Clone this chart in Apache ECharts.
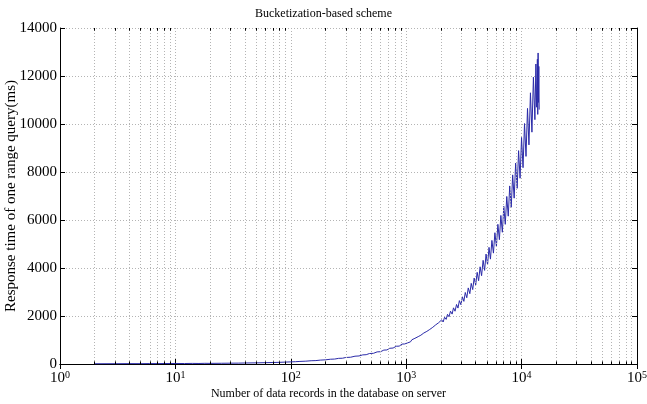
<!DOCTYPE html>
<html>
<head>
<meta charset="utf-8">
<script src="https://cdn.jsdelivr.net/npm/echarts@6/dist/echarts.min.js"></script>
<style>
  html, body { margin: 0; padding: 0; background: #fff; }
  #chartMain { width: 647px; height: 404px; }
</style>
</head>
<body>
<div id="chartMain"></div>
<script>
// number of records (x) and response time in ms (y)
var records = [2, 3, 4, 5, 6, 7, 8, 9, 10, 12, 14, 16, 18, 20, 25, 30, 35, 40, 50, 60, 70, 80, 90, 100,
    110, 120, 135, 150, 165, 180, 200, 220, 240, 260, 280, 300, 330, 360, 390, 420, 450, 480, 520, 560,
    600, 640, 680, 720, 770, 820, 870, 920, 970, 1000,
    1030, 1060, 1090, 1120, 1160, 1190, 1230, 1270, 1300, 1340, 1380, 1420, 1470, 1510, 1560, 1600,
    1650, 1700, 1750, 1800, 1860, 1910, 1970, 2030, 2090, 2150, 2220, 2280, 2350, 2420, 2500, 2570,
    2650, 2730, 2810, 2890, 2980, 3070, 3160, 3250, 3350, 3450, 3560, 3660, 3770, 3880, 4000, 4120,
    4240, 4370, 4500, 4640, 4780, 4920, 5070, 5220, 5370, 5530, 5700, 5870, 6050, 6230, 6420, 6610,
    6810, 7010, 7220, 7440, 7660, 7890, 8130, 8370, 8620, 8880, 9150, 9420, 9700, 9990, 10290, 10600,
    10920, 11250, 11580, 11930, 12290, 12660, 13040, 13300, 13500, 13700, 13800, 13900, 14000, 14100, 14200];

var responseMs = [10, 12, 15, 14, 18, 17, 20, 19, 22, 20, 25, 22, 28, 26, 30, 34, 36, 42, 48, 55, 62, 70, 80, 88,
    96, 108, 118, 136, 142, 162, 174, 198, 206, 236, 240, 272, 282, 325, 335, 380, 388, 436, 445, 505,
    512, 580, 585, 655, 665, 740, 745, 830, 835, 905,
    880, 950, 925, 1010, 985, 1070, 1045, 1140, 1100, 1200, 1170, 1290, 1240, 1360, 1320, 1440,
    1400, 1530, 1470, 1630, 1560, 1720, 1650, 1840, 1750, 1950, 1860, 2070, 1970, 2200, 2080, 2340,
    2200, 2480, 2330, 2640, 2470, 2800, 2610, 2980, 2760, 3170, 2930, 3360, 3100, 3580, 3290, 3820,
    3470, 4050, 3680, 4320, 3900, 4580, 4130, 4860, 4370, 5150, 4620, 5470, 4900, 5820, 5180, 6190,
    5490, 6570, 5820, 6980, 6160, 7420, 6530, 7880, 6910, 8370, 7320, 8890, 7740, 9440, 8180, 10020,
    8650, 10650, 9130, 11300, 9660, 11950, 10180, 12500, 10700, 12700, 10400, 12960, 10900, 12400, 10600];

// minor log grid positions (2..9 of each decade)
var minorGrid = [2, 3, 4, 5, 6, 7, 8, 9, 20, 30, 40, 50, 60, 70, 80, 90,
    200, 300, 400, 500, 600, 700, 800, 900, 2000, 3000, 4000, 5000, 6000, 7000, 8000, 9000,
    20000, 30000, 40000, 50000, 60000, 70000, 80000, 90000];

var yTicks = { min: 0, max: 14000, interval: 2000 };

var serif = '"Liberation Serif", "DejaVu Serif", serif';

var seriesData = [];
for (var i = 0; i < records.length; i++) {
    seriesData.push([records[i], responseMs[i]]);
}

var gridLines = [];
var tickMarks = [];
for (var j = 0; j < minorGrid.length; j++) {
    gridLines.push({ xAxis: minorGrid[j] });
    // short minor ticks on bottom and top edges
    tickMarks.push([{ coord: [minorGrid[j], 0] }, { coord: [minorGrid[j], 110] }]);
    tickMarks.push([{ coord: [minorGrid[j], 14000] }, { coord: [minorGrid[j], 13890] }]);
}

var dotted = { color: '#b4b4b4', width: 1, type: [1, 2] };

var option = {
    backgroundColor: '#fff',
    animation: false,
    title: {
        text: 'Bucketization-based scheme',
        left: 'center',
        top: 3,
        textStyle: { fontFamily: serif, fontSize: 12, fontWeight: 'normal', color: '#000' }
    },
    grid: { left: 60, right: 10, top: 28, bottom: 40, outerBoundsMode: 'none', containLabel: false },
    xAxis: [{
        type: 'log',
        logBase: 10,
        min: 1,
        max: 100000,
        name: 'Number of data records in the database on server',
        nameLocation: 'middle',
        nameGap: 24,
        nameMoveOverlap: false,
        nameTextStyle: { fontFamily: serif, fontSize: 12, color: '#000', padding: [0, 40, 0, 0] },
        axisLine: { lineStyle: { color: '#000', width: 1 } },
        axisTick: { inside: true, length: 5, lineStyle: { color: '#000' } },
        splitLine: { show: true, lineStyle: dotted },
        axisLabel: {
            margin: 6,
            color: '#000',
            formatter: function (v) {
                return '{b|10}{s|' + Math.round(Math.log10(v)) + '}';
            },
            rich: {
                b: { fontFamily: serif, fontSize: 15, color: '#000', lineHeight: 16, verticalAlign: 'bottom' },
                s: { fontFamily: serif, fontSize: 10, color: '#000', lineHeight: 16, verticalAlign: 'top' }
            }
        }
    }, {
        type: 'log',
        logBase: 10,
        min: 1,
        max: 100000,
        position: 'top',
        axisLine: { lineStyle: { color: '#000', width: 1 } },
        axisTick: { inside: true, length: 5, lineStyle: { color: '#000' } },
        axisLabel: { show: false },
        splitLine: { show: false }
    }],
    yAxis: [{
        type: 'value',
        min: yTicks.min,
        max: yTicks.max,
        interval: yTicks.interval,
        name: 'Response time of one range query(ms)',
        nameLocation: 'middle',
        nameGap: 41,
        nameMoveOverlap: false,
        nameTextStyle: { fontFamily: serif, fontSize: 15, color: '#000' },
        axisLine: { show: true, lineStyle: { color: '#000', width: 1 } },
        axisTick: { show: true, inside: true, length: 5, lineStyle: { color: '#000' } },
        splitLine: { show: true, lineStyle: dotted },
        axisLabel: {
            fontFamily: serif, fontSize: 15, color: '#000', margin: 3,
            formatter: function (v) { return String(v); }
        }
    }, {
        type: 'value',
        min: yTicks.min,
        max: yTicks.max,
        interval: yTicks.interval,
        position: 'right',
        axisLine: { show: true, lineStyle: { color: '#000', width: 1 } },
        axisTick: { show: true, inside: true, length: 5, lineStyle: { color: '#000' } },
        axisLabel: { show: false },
        splitLine: { show: false }
    }],
    series: [{
        // log minor grid lines
        type: 'line',
        data: [],
        z: 1,
        silent: true,
        markLine: {
            silent: true,
            symbol: 'none',
            label: { show: false },
            lineStyle: dotted,
            data: gridLines
        }
    }, {
        // minor ticks
        type: 'line',
        data: [],
        z: 1,
        silent: true,
        markLine: {
            silent: true,
            symbol: 'none',
            label: { show: false },
            lineStyle: { color: '#000', width: 1, type: 'solid' },
            data: tickMarks
        }
    }, {
        name: 'response',
        type: 'line',
        z: 3,
        data: seriesData,
        showSymbol: false,
        symbol: 'none',
        lineStyle: { color: '#2a2aa8', width: 1 }
    }]
};

var chart = echarts.init(document.getElementById('chartMain'));
chart.setOption(option);
</script>
</body>
</html>
